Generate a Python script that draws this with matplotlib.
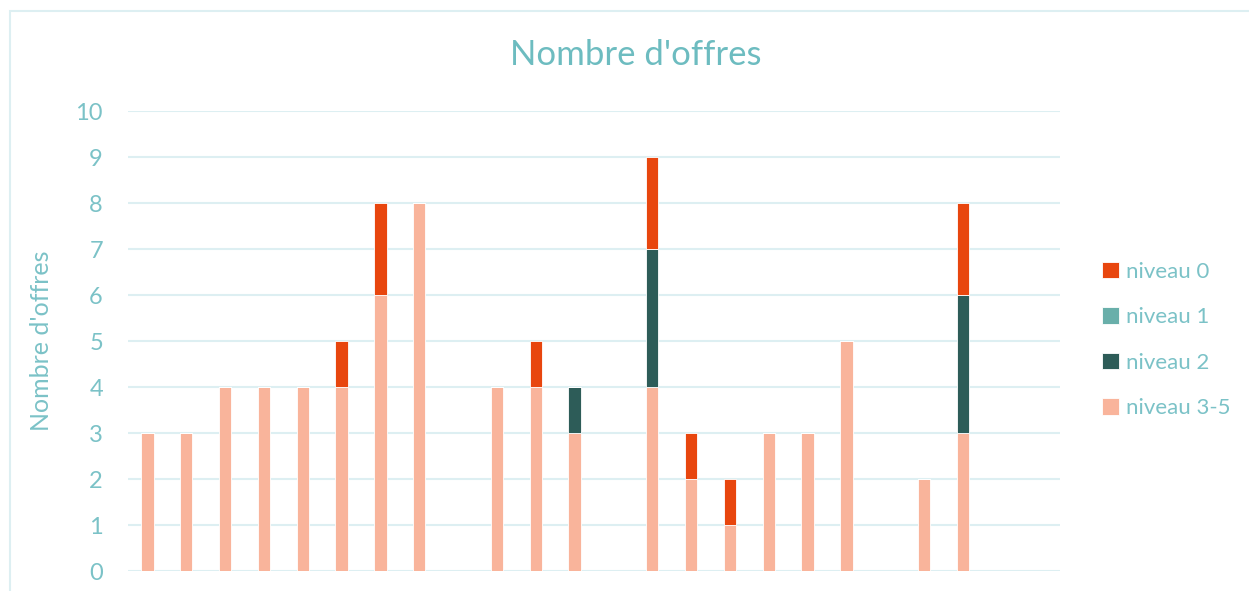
import numpy as np
import matplotlib.pyplot as plt
from matplotlib.patches import Rectangle

# ─── DATA ────────────────────────────────────────────────────────────────────
n_cat = 24
niveau_3_5 = [3, 3, 4, 4, 4, 4, 6, 8, 0, 4, 4, 3, 0, 4, 2, 1, 3, 3, 5, 0, 2, 3, 0, 0]
niveau_2   = [0, 0, 0, 0, 0, 0, 0, 0, 0, 0, 0, 1, 0, 3, 0, 0, 0, 0, 0, 0, 0, 3, 0, 0]
niveau_1   = [0] * n_cat
niveau_0   = [0, 0, 0, 0, 0, 1, 2, 0, 0, 0, 1, 0, 0, 2, 1, 1, 0, 0, 0, 0, 0, 2, 0, 0]
yticks = list(range(0, 11))

# ─── STYLE ───────────────────────────────────────────────────────────────────
plt.rcParams['font.family'] = ['Lato', 'DejaVu Sans']
txt_col = '#7BC2C7'
grid_col = '#DDEFF2'
colors = {'niveau 0': '#E8460E', 'niveau 1': '#69AFAA',
          'niveau 2': '#2D5C58', 'niveau 3-5': '#F9B49B'}

fig = plt.figure(figsize=(12.49, 5.91), dpi=100)
fig.patches.append(Rectangle((10 / 1249, -0.1), 1.2, (591 - 11) / 591 + 0.1,
                             transform=fig.transFigure, fill=False,
                             edgecolor=grid_col, linewidth=1.5))
ax = fig.add_axes([128 / 1249, 20 / 591, 932 / 1249, 460 / 591])

x = np.arange(n_cat)
w = 0.32
bottom = np.zeros(n_cat)
series = [('niveau 3-5', niveau_3_5), ('niveau 2', niveau_2),
          ('niveau 1', niveau_1), ('niveau 0', niveau_0)]
handles = {}
for name, vals in series:
    v = np.array(vals, dtype=float)
    b = ax.bar(x, v, w, bottom=bottom, color=colors[name],
               edgecolor='white', linewidth=0.6, zorder=3, label=name)
    handles[name] = b
    bottom += v

ax.set_xlim(-0.5, n_cat - 0.5)
ax.set_ylim(0, 10)
ax.set_yticks(yticks)
ax.set_xticks([])
ax.yaxis.grid(True, color=grid_col, linewidth=1.5, zorder=0)
for s in ax.spines.values():
    s.set_visible(False)
ax.tick_params(axis='y', length=0, pad=18, labelsize=17, labelcolor=txt_col)

ax.set_ylabel("Nombre d'offres", color=txt_col, fontsize=18, labelpad=16)
fig.text(636 / 1249, 1 - 55 / 591, "Nombre d'offres", color='#6DBCC0',
         fontsize=25, ha='center', va='center')

order = ['niveau 0', 'niveau 1', 'niveau 2', 'niveau 3-5']
leg = fig.legend([handles[k] for k in order], order,
                 loc='center left', bbox_to_anchor=(1082 / 1249, 1 - 340 / 591),
                 frameon=False, fontsize=16, handlelength=0.75, handleheight=0.75,
                 handletextpad=0.35, labelspacing=1.15, labelcolor=txt_col)

fig.savefig('out.png', dpi=100)
